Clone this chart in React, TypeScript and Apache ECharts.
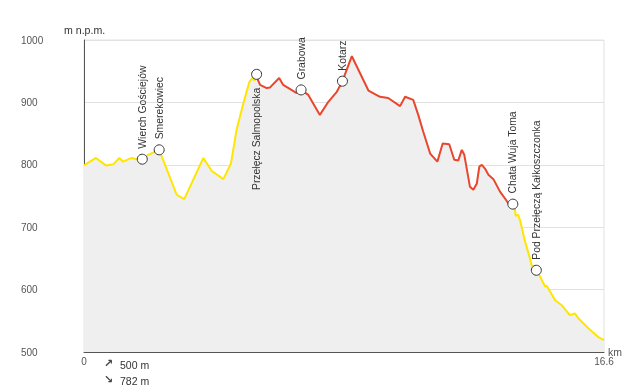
import React, { useEffect, useRef } from "react";
import * as echarts from "echarts";

const distKm = [0, 0.38, 0.7, 0.94, 1.13, 1.25, 1.52, 1.68, 1.86, 2.05, 2.27, 2.4, 2.96, 3.2, 3.81, 4.08, 4.45, 4.69, 4.87, 5.09, 5.28, 5.39, 5.44, 5.51, 5.62, 5.83, 5.94, 6.23, 6.36, 6.79, 6.93, 7.16, 7.53, 7.8, 8.07, 8.25, 8.55, 9.08, 9.45, 9.71, 10.09, 10.25, 10.51, 10.67, 10.83, 11.05, 11.28, 11.45, 11.66, 11.82, 11.95, 12.06, 12.14, 12.32, 12.43, 12.54, 12.62, 12.7, 12.8, 12.91, 13.07, 13.28, 13.44, 13.55, 13.69, 13.76, 13.78, 13.86, 13.92, 14.08, 14.22, 14.29, 14.44, 14.56, 14.72, 14.77, 15.04, 15.25, 15.51, 15.67, 15.78, 16.1, 16.42, 16.6];
const elevM = [799, 811, 799, 801, 811, 805, 811, 809, 809, 816, 821, 824, 752, 745, 811, 790, 777, 802, 856, 899, 933, 940, 935, 941, 928, 923, 924, 939, 928, 915, 920, 912, 880, 901, 917, 934, 974, 919, 909, 907, 894, 909, 904, 880, 853, 818, 805, 834, 833, 808, 807, 824, 816, 765, 760, 770, 797, 800, 794, 784, 777, 757, 746, 738, 737, 728, 718, 720, 711, 677, 653, 639, 631, 621, 605, 606, 583, 575, 559, 562, 554, 538, 524, 519];

const markerNames = ["Wierch Gościejów", "Smerekowiec", "Przełęcz Salmopolska", "Grabowa", "Kotarz", "Chata Wuja Toma", "Pod Przełęczą Kałkoszczonka"];
const markerKm = [1.86, 2.4, 5.51, 6.93, 8.25, 13.69, 14.44];
const markerElev = [809, 824, 945, 920, 934, 737, 631];
const labelsBelow = ["Przełęcz Salmopolska"];

// red segment runs between these two waypoints
const redFrom = "Przełęcz Salmopolska";
const redTo = "Chata Wuja Toma";

const yTicks = { min: 500, max: 1000, step: 100 };
const xLabels = [0, 16.6];
const ascent = "500 m";
const descent = "782 m";

const FONT = "'Liberation Sans', Arial, sans-serif";
const YELLOW = "#ffe500";
const RED = "#e8472d";

export default function App() {
  const ref = useRef<HTMLDivElement>(null);
  useEffect(() => {
    if (!ref.current) return;
    const chart = echarts.init(ref.current, null, { renderer: "svg" });
    const all = distKm.map((d, i) => [d, elevM[i]]);
    const i1 = distKm.indexOf(markerKm[markerNames.indexOf(redFrom)]);
    const i2 = distKm.indexOf(markerKm[markerNames.indexOf(redTo)]);
    const seg = (a: number, b: number, color: string) => ({
      type: "line",
      data: all.slice(a, b + 1),
      showSymbol: false,
      symbol: "none",
      lineStyle: { color, width: 2 },
      z: 3,
      silent: true,
    });
    chart.setOption({
      animation: false,
      grid: { left: 84, right: 28, top: 40, bottom: 38, show: true, borderColor: "#e2e2e2", borderWidth: 1, backgroundColor: "transparent" },
      xAxis: {
        type: "value",
        min: 0,
        max: 16.6,
        splitLine: { show: false },
        axisTick: { show: false },
        axisLine: { show: true, onZero: false, lineStyle: { color: "#555", width: 1 } },
        axisLabel: { customValues: xLabels, color: "#555", fontSize: 10, fontFamily: FONT, margin: 4, formatter: (v: number) => String(v) },
      },
      yAxis: {
        type: "value",
        min: yTicks.min,
        max: yTicks.max,
        interval: yTicks.step,
        splitLine: { show: true, lineStyle: { color: "#e2e2e2", width: 1 } },
        axisTick: { show: false },
        axisLine: { show: true, lineStyle: { color: "#555", width: 1 } },
        axisLabel: { color: "#555", fontSize: 10, fontFamily: FONT, align: "left", margin: 63, formatter: (v: number) => String(v) },
      },
      series: [
        {
          type: "line",
          data: all,
          showSymbol: false,
          symbol: "none",
          lineStyle: { width: 0 },
          areaStyle: { color: "#efefef", opacity: 1, origin: "start" },
          z: 1,
          silent: true,
        },
        seg(0, i1, YELLOW),
        seg(i1, i2, RED),
        seg(i2, distKm.length - 1, YELLOW),
        {
          type: "scatter",
          z: 5,
          symbol: "circle",
          symbolSize: 10,
          itemStyle: { color: "#fff", borderColor: "#333", borderWidth: 1, opacity: 1 },
          data: markerNames.map((n, i) => {
            const below = labelsBelow.includes(n);
            return {
              name: n,
              value: [markerKm[i], markerElev[i]],
              label: {
                show: true,
                formatter: n,
                rotate: 90,
                position: below ? "bottom" : "top",
                distance: below ? 8 : 5,
                align: below ? "right" : "left",
                verticalAlign: "middle",
                fontSize: 10.4,
                fontFamily: FONT,
                color: "#333",
              },
            };
          }),
        },
      ],
      graphic: [
        { type: "text", left: 64, top: 24, style: { text: "m n.p.m.", fill: "#333", font: `10.6px ${FONT}` } },
        { type: "text", left: 608, top: 346, style: { text: "km", fill: "#555", font: `10.5px ${FONT}` } },
        { type: "text", left: 104, top: 358, style: { text: "↗", fill: "#444", font: `bold 11px 'DejaVu Sans', sans-serif` } },
        { type: "text", left: 120, top: 359, style: { text: ascent, fill: "#333", font: `10.5px ${FONT}` } },
        { type: "text", left: 104, top: 374, style: { text: "↘", fill: "#444", font: `bold 11px 'DejaVu Sans', sans-serif` } },
        { type: "text", left: 120, top: 375, style: { text: descent, fill: "#333", font: `10.5px ${FONT}` } },
      ],
    });
    return () => chart.dispose();
  }, []);
  return <div ref={ref} style={{ position: "fixed", left: 0, top: 0, width: 632, height: 390 }} />;
}
